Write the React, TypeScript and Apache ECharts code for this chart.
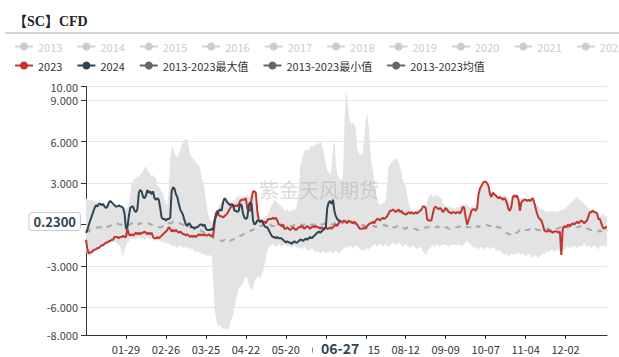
import React, { useEffect, useRef } from "react";
import * as echarts from "echarts";

const FONT = "'Noto Sans CJK SC', 'Noto Sans', sans-serif";

const MONTH_DAYS = [31, 29, 31, 30, 31, 30, 31, 31, 30, 31, 30, 31];
const categories: string[] = [];
MONTH_DAYS.forEach((n, m) => {
  for (let d = 1; d <= n; d++) {
    categories.push(String(m + 1).padStart(2, "0") + "-" + String(d).padStart(2, "0"));
  }
});

const hiddenYears = ["2013", "2014", "2015", "2016", "2017", "2018", "2019", "2020", "2021", "2022"];
const NAME_2023 = "2023";
const NAME_2024 = "2024";
const NAME_MAX = "2013-2023最大值";
const NAME_MIN = "2013-2023最小值";
const NAME_MEAN = "2013-2023均值";
const yMin = -8;
const yMax = 10;
const ySplitNumber = 6;
const pointerDate = "06-27";
const pointerValue = 0.23;
const watermark = "紫金天风期货";

const maxValues = [
  1.9, 1.8, 1.8, 1.7, 1.8, 1.7, 1.6, 1.7, 1.6, 1.5,
  1.6, 1.5, 1.6, 1.5, 1.4, 1.5, 1.6, 1.5, 1.4, 1.5,
  1.4, 1.3, 1.3, 1.2, 1.3, 1.2, 1.1, 1.2, 1.1, 1.2,
  1.5, 2.2, 3.0, 3.2, 3.4, 3.3, 3.5, 3.4, 3.6, 3.7,
  3.9, 4.1, 4.2, 4.0, 3.8, 3.6, 3.5, 3.6, 3.4, 3.3,
  2.9, 2.7, 2.6, 2.4, 2.2, 1.8, 1.5, 1.4, 2.5, 4.8,
  5.6, 5.5, 5.2, 5.0, 4.9, 5.1, 5.4, 5.8, 6.0, 6.2,
  6.1, 6.2, 5.6, 5.0, 4.9, 4.8, 4.6, 4.5, 4.4, 4.3,
  4.0, 3.4, 3.0, 2.6, 1.8, 1.0, 0.6, 0.3, 0.2, 0.1,
  0.2, 0.9, 1.1, 1.3, 1.5, 1.6, 1.6, 1.7, 1.8, 1.7,
  1.6, 1.7, 1.6, 1.8, 1.7, 1.9, 2.0, 2.1, 1.9, 2.0,
  2.0, 2.1, 2.0, 2.2, 2.0, 1.9, 2.0, 2.5, 2.5, 2.4,
  1.2, 0.6, 0.5, 0.5, 0.4, 0.5, 0.6, 0.7, 0.9, 1.2,
  1.4, 1.6, 1.8, 1.7, 1.6, 1.5, 1.4, 1.3, 1.2, 1.0,
  1.0, 1.1, 1.0, 0.9, 1.0, 1.1, 1.0, 1.2, 1.5, 2.5,
  4.2, 4.6, 5.0, 5.3, 5.4, 5.5, 5.3, 5.6, 5.7, 5.6,
  5.8, 5.7, 5.9, 5.8, 6.0, 5.9, 5.5, 5.0, 4.3, 3.9,
  3.8, 3.6, 4.0, 5.5, 6.1, 4.5, 3.6, 3.4, 3.3, 3.2,
  3.5, 7.0, 9.7, 9.2, 8.0, 7.4, 7.3, 7.4, 7.2, 7.0,
  5.5, 5.2, 5.0, 5.1, 5.3, 6.5, 7.6, 8.0, 7.2, 5.6,
  4.5, 3.9, 3.2, 2.4, 1.8, 1.5, 1.4, 1.5, 1.6, 1.5,
  1.8, 3.0, 4.2, 4.3, 4.5, 4.6, 4.7, 4.8, 4.7, 4.5,
  4.2, 3.8, 3.2, 3.0, 2.8, 2.2, 1.6, 1.2, 1.0, 1.0,
  0.9, 1.0, 1.1, 1.0, 1.1, 1.2, 1.4, 1.4, 1.3, 1.6,
  2.0, 2.1, 2.2, 2.0, 2.1, 2.2, 2.0, 2.1, 2.0, 1.9,
  1.5, 1.4, 1.3, 1.2, 1.3, 1.2, 1.3, 1.2, 1.1, 1.2,
  1.3, 1.2, 1.4, 1.3, 1.4, 1.4, 1.5, 1.4, 1.3, 1.2,
  1.3, 1.4, 1.3, 1.4, 1.6, 2.3, 2.7, 2.9, 3.0, 3.1,
  3.2, 3.0, 2.8, 2.5, 2.3, 2.4, 2.3, 2.2, 2.1, 2.0,
  2.1, 2.0, 2.0, 2.1, 2.1, 2.0, 1.9, 1.5, 1.4, 2.1,
  2.2, 2.1, 2.2, 1.9, 1.8, 1.9, 1.9, 1.9, 1.9, 1.8,
  1.9, 1.9, 1.9, 2.0, 1.7, 1.5, 1.4, 1.3, 1.2, 1.1,
  1.1, 1.0, 1.0, 0.9, 1.0, 0.9, 1.0, 1.0, 0.9, 1.0,
  0.9, 1.0, 1.0, 1.1, 1.0, 1.1, 1.2, 1.3, 1.4, 1.5,
  1.6, 1.7, 1.8, 1.9, 2.0, 1.9, 1.8, 1.7, 1.6, 1.5,
  1.4, 1.3, 1.2, 1.1, 1.1, 1.1, 1.0, 1.0, 0.9, 0.8,
  0.7, 0.6, 0.8, 0.7, 0.6, 0.7,
];

const minValues = [
  -1.9, -2.2, -2.3, -2.2, -2.1, -2.0, -1.9, -1.9, -1.8, -1.8,
  -1.7, -1.6, -1.6, -1.5, -1.4, -1.4, -1.3, -1.3, -1.2, -1.3,
  -1.2, -1.3, -1.4, -1.5, -1.6, -2.0, -2.3, -1.8, -1.5, -1.3,
  -1.2, -1.1, -1.0, -1.1, -1.0, -1.1, -1.0, -0.9, -1.0, -1.1,
  -1.0, -1.1, -1.0, -0.9, -1.0, -1.1, -1.0, -1.1, -1.2, -1.1,
  -1.2, -1.1, -1.2, -1.3, -1.2, -1.3, -1.4, -1.3, -1.4, -1.5,
  -1.5, -1.6, -1.5, -1.6, -1.7, -1.6, -1.5, -1.6, -1.7, -1.6,
  -1.7, -1.6, -1.7, -1.8, -1.7, -1.8, -1.9, -2.0, -1.9, -2.0,
  -2.1, -2.0, -2.2, -2.1, -2.2, -2.3, -2.2, -2.3, -2.2, -3.8,
  -6.0, -6.8, -7.2, -7.4, -7.3, -7.5, -7.6, -7.4, -7.7, -7.5,
  -7.6, -7.2, -6.8, -6.6, -6.0, -5.5, -5.0, -4.6, -4.5, -4.4,
  -4.2, -4.0, -3.8, -3.9, -4.3, -4.6, -4.8, -4.5, -4.2, -3.9,
  -3.8, -3.7, -3.9, -3.6, -3.4, -3.0, -2.4, -1.9, -1.7, -1.6,
  -1.5, -1.4, -1.5, -1.6, -1.5, -1.4, -1.5, -1.6, -1.5, -1.4,
  -1.5, -1.6, -1.5, -1.6, -1.7, -1.6, -1.5, -1.6, -1.7, -1.6,
  -1.7, -1.8, -1.7, -1.6, -1.7, -1.8, -1.9, -1.8, -1.7, -1.8,
  -1.9, -2.0, -1.9, -2.0, -2.1, -2.0, -1.9, -2.0, -2.1, -2.0,
  -2.0, -1.9, -2.0, -2.1, -2.0, -1.9, -2.0, -2.1, -2.0, -1.9,
  -1.8, -1.7, -1.6, -1.7, -1.6, -1.5, -1.6, -1.7, -1.6, -1.5,
  -1.6, -1.7, -1.8, -1.9, -1.8, -1.9, -1.8, -1.7, -1.8, -1.7,
  -1.6, -1.5, -1.4, -1.5, -1.6, -1.5, -1.4, -1.5, -1.6, -1.5,
  -1.4, -1.5, -1.6, -1.5, -1.4, -1.3, -1.4, -1.5, -1.4, -1.3,
  -1.4, -1.5, -1.6, -1.5, -1.4, -1.5, -1.6, -1.7, -1.6, -1.5,
  -1.6, -1.7, -1.8, -1.7, -1.6, -1.7, -1.9, -2.1, -2.2, -2.0,
  -1.8, -1.7, -1.6, -1.5, -1.6, -1.5, -1.4, -1.5, -1.6, -1.5,
  -1.4, -1.5, -1.4, -1.5, -1.6, -1.5, -1.4, -1.5, -1.4, -1.5,
  -1.5, -1.4, -1.5, -1.6, -1.5, -1.4, -1.3, -1.2, -1.3, -1.4,
  -1.5, -1.6, -1.7, -1.6, -1.7, -1.8, -1.7, -1.6, -1.7, -1.8,
  -1.7, -1.6, -1.7, -1.8, -1.7, -1.6, -1.7, -1.8, -1.9, -1.8,
  -1.9, -2.0, -2.1, -2.2, -2.1, -2.2, -2.3, -2.2, -2.1, -2.2,
  -2.1, -2.2, -2.1, -2.0, -2.1, -2.2, -2.1, -2.2, -2.3, -2.2,
  -2.1, -2.2, -2.3, -2.4, -2.3, -2.2, -2.3, -2.4, -2.3, -2.2,
  -2.1, -2.2, -2.0, -1.9, -2.0, -1.9, -1.8, -1.9, -2.0, -1.9,
  -1.8, -1.9, -2.0, -2.3, -1.9, -1.8, -1.7, -1.6, -1.7, -1.6,
  -1.7, -1.6, -1.5, -1.6, -1.7, -1.6, -1.5, -1.6, -1.5, -1.4,
  -1.5, -1.6, -1.5, -1.6, -1.7, -1.6, -1.5, -1.6, -1.7, -1.8,
  -1.6, -1.5, -1.6, -1.5, -1.6, -1.5,
];

const meanValues = [
  -0.4, -0.5, -0.5, -0.4, -0.4, -0.3, -0.3, -0.3, -0.2, -0.2,
  -0.2, -0.2, -0.1, -0.1, -0.1, -0.2, -0.1, -0.1, 0.0, 0.0,
  0.0, 0.0, 0.1, 0.0, 0.0, 0.0, 0.0, 0.0, 0.1, 0.0,
  0.0, 0.0, 0.1, 0.1, 0.0, 0.1, 0.1, 0.0, 0.1, 0.1,
  0.1, 0.1, 0.0, 0.0, 0.1, 0.0, 0.0, -0.1, -0.1, -0.1,
  -0.1, -0.2, -0.2, -0.2, -0.1, -0.1, 0.0, 0.0, 0.1, 0.1,
  0.1, 0.2, 0.2, 0.1, 0.1, 0.1, 0.1, 0.0, 0.0, -0.1,
  -0.1, -0.2, -0.2, -0.2, -0.2, -0.2, -0.3, -0.3, -0.3, -0.4,
  -0.4, -0.5, -0.5, -0.6, -0.6, -0.7, -0.8, -0.8, -0.9, -0.9,
  -1.0, -1.0, -1.1, -1.1, -1.1, -1.2, -1.2, -1.1, -1.2, -1.1,
  -1.1, -1.2, -1.1, -1.1, -1.0, -1.0, -0.9, -0.9, -0.8, -0.8,
  -0.7, -0.7, -0.6, -0.6, -0.5, -0.5, -0.4, -0.4, -0.3, -0.3,
  -0.2, -0.2, -0.1, -0.1, 0.0, 0.0, 0.1, 0.1, 0.0, 0.0,
  -0.1, -0.1, -0.1, -0.2, -0.1, -0.1, -0.1, -0.1, -0.2, -0.1,
  -0.1, -0.1, -0.2, -0.1, -0.1, -0.1, 0.0, -0.1, -0.1, 0.0,
  0.0, 0.0, -0.1, 0.0, 0.0, 0.0, 0.1, 0.0, 0.0, 0.0,
  0.0, 0.0, 0.0, 0.1, 0.0, 0.0, 0.0, 0.1, 0.0, 0.0,
  0.0, 0.1, 0.0, 0.0, 0.1, 0.1, 0.1, 0.1, 0.2, 0.1,
  0.1, 0.2, 0.2, 0.1, 0.1, 0.2, 0.1, 0.1, 0.1, 0.0,
  0.0, 0.0, -0.1, -0.1, 0.0, -0.1, -0.1, -0.1, -0.1, -0.1,
  -0.1, -0.1, -0.1, -0.2, -0.1, -0.1, -0.1, -0.1, -0.1, 0.0,
  -0.1, -0.1, 0.0, -0.1, -0.1, -0.2, -0.2, -0.2, -0.1, -0.2,
  -0.2, -0.2, -0.2, -0.3, -0.3, -0.2, -0.2, -0.3, -0.3, -0.3,
  -0.3, -0.3, -0.4, -0.4, -0.3, -0.3, -0.3, -0.3, -0.2, -0.2,
  -0.2, -0.2, -0.2, -0.3, -0.2, -0.2, -0.1, -0.2, -0.2, -0.3,
  -0.3, -0.3, -0.2, -0.2, -0.3, -0.3, -0.2, -0.2, -0.2, -0.2,
  -0.2, -0.2, -0.1, -0.2, -0.2, -0.2, -0.1, -0.2, -0.2, -0.2,
  -0.2, -0.3, -0.2, -0.2, -0.1, -0.2, -0.1, -0.1, -0.1, -0.1,
  -0.1, 0.0, -0.1, -0.1, -0.1, -0.2, -0.1, -0.1, -0.2, -0.2,
  -0.2, -0.3, -0.4, -0.5, -0.6, -0.6, -0.7, -0.7, -0.6, -0.5,
  -0.5, -0.6, -0.6, -0.5, -0.4, -0.4, -0.4, -0.3, -0.4, -0.4,
  -0.4, -0.3, -0.4, -0.4, -0.4, -0.3, -0.4, -0.4, -0.4, -0.4,
  -0.4, -0.3, -0.3, -0.3, -0.3, -0.4, -0.4, -0.3, -0.3, -0.2,
  -0.3, -0.3, -0.2, -0.2, -0.2, -0.2, -0.3, -0.2, -0.2, -0.1,
  -0.1, -0.2, -0.1, -0.1, -0.2, -0.2, -0.1, -0.2, -0.2, -0.3,
  -0.3, -0.3, -0.3, -0.4, -0.4, -0.4, -0.5, -0.5, -0.5, -0.5,
  -0.4, -0.5, -0.6, -0.5, -0.5, -0.4,
];

const values2023 = [
  -1.1, -1.8, -2.1, -2.0, -2.0, -1.9, -1.8, -1.8, -1.7, -1.7,
  -1.6, -1.5, -1.5, -1.4, -1.3, -1.3, -1.2, -1.2, -1.1, -1.1,
  -0.9, -0.9, -0.9, -1.0, -0.9, -0.9, -0.8, -0.9, -0.9, -0.3,
  -0.7, -0.8, -0.7, -0.8, -0.7, -0.6, -0.7, -0.6, -0.7, -0.6,
  -0.6, -0.5, -0.6, -0.7, -0.6, -0.7, -0.6, -0.9, -1.0, -1.0,
  -0.9, -1.0, -0.9, -0.8, -0.7, -0.6, -0.5, -0.4, -0.2, -0.3,
  -0.5, -0.4, -0.5, -0.4, -0.5, -0.6, -0.5, -0.6, -0.7, -0.7,
  -0.8, -0.7, -0.8, -0.9, -0.8, -0.9, -0.8, -0.9, -0.8, -0.7,
  -0.8, -0.7, -0.8, -0.7, -0.8, -0.8, -0.7, -0.8, -0.8, -0.9,
  0.0, 0.8, 1.0, 0.7, 0.6, 0.6, 0.5, 0.6, 0.7, 0.8,
  1.0, 1.2, 1.3, 1.4, 1.3, 1.4, 1.3, 1.5, 1.7, 1.8,
  1.8, 1.8, 1.9, 1.2, 1.0, 1.0, 1.9, 2.4, 2.4, 2.3,
  1.0, 0.3, 0.2, 0.3, 0.2, 0.2, 0.1, 0.3, 0.4, 0.4,
  0.4, 0.5, 0.4, 0.5, 0.3, 0.0, 0.0, -0.1, 0.0, -0.3,
  -0.3, -0.2, -0.3, -0.4, -0.3, -0.2, -0.3, -0.4, -0.3, -0.2,
  -0.2, -0.1, -0.2, -0.3, -0.2, -0.1, -0.2, -0.3, -0.2, -0.1,
  -0.2, -0.1, -0.2, -0.2, -0.3, -0.2, -0.3, -0.3, -0.2, -0.3,
  -0.3, -0.2, -0.3, -0.2, -0.1, 0.0, -0.1, 0.1, 0.3, 0.2,
  0.2, 0.3, 0.2, 0.1, 0.3, 0.2, 0.2, 0.1, 0.2, 0.1,
  0.0, -0.2, -0.3, -0.3, -0.3, -0.2, -0.3, -0.1, 0.0, 0.1,
  0.1, 0.2, 0.1, 0.3, 0.4, 0.4, 0.3, 0.4, 0.5, 0.4,
  0.5, 0.6, 0.8, 1.0, 1.0, 1.1, 1.0, 0.9, 1.0, 1.1,
  0.9, 1.0, 0.8, 0.8, 0.7, 0.8, 0.9, 0.8, 0.9, 0.8,
  0.8, 0.9, 0.8, 0.9, 1.0, 1.1, 1.3, 1.3, 1.2, 0.4,
  0.3, 0.3, 0.3, 0.8, 1.2, 1.3, 1.2, 1.1, 1.2, 1.1,
  0.9, 1.0, 1.2, 1.1, 0.9, 0.9, 0.8, 0.9, 0.9, 0.8,
  0.9, 0.9, 0.8, 1.0, 1.3, 1.2, 0.5, 0.0, 0.3, 0.6,
  1.0, 1.1, 1.1, 1.0, 1.2, 2.2, 2.6, 2.8, 3.0, 3.1,
  3.1, 3.0, 2.8, 2.2, 2.0, 2.3, 2.2, 2.1, 2.0, 1.9,
  2.0, 1.9, 1.8, 1.9, 1.8, 1.5, 1.1, 1.0, 1.3, 2.0,
  2.1, 2.0, 2.1, 1.8, 1.0, 1.6, 1.7, 1.8, 1.8, 1.7,
  1.8, 1.7, 1.8, 1.9, 1.6, 1.2, 0.8, 0.5, 0.4, 0.3,
  0.0, -0.4, -0.5, -0.5, -0.4, -0.5, -0.5, -0.6, -0.5, -0.5,
  -0.5, -0.6, -0.5, -2.2, -0.3, -0.1, -0.2, -0.1, 0.0, -0.1,
  0.0, 0.1, 0.0, 0.1, 0.2, 0.1, 0.2, 0.3, 0.2, 0.1,
  0.2, 0.3, 0.6, 0.9, 0.9, 1.0, 0.9, 0.9, 0.8, 0.4,
  0.4, 0.1, -0.2, -0.3, -0.2, -0.2,
];

const values2024 = [
  -0.6, -0.4, 0.0, 0.3, 0.6, 0.9, 1.2, 1.4, 1.3, 1.5,
  1.5, 1.4, 1.5, 1.3, 1.2, 1.3, 1.6, 1.7, 1.6, 1.5,
  1.4, 1.3, 1.3, 1.4, 1.3, 1.3, 1.2, 0.8, -0.3, -0.2,
  0.6, 1.2, 1.3, 1.3, 1.0, 0.9, 1.1, 2.3, 2.5, 2.4,
  2.0, 1.9, 2.1, 2.5, 2.3, 2.4, 2.2, 2.4, 1.9, 1.8,
  1.9, 1.8, 1.2, 0.5, 0.4, 0.4, 0.3, 0.4, 0.4, 0.5,
  2.4, 2.7, 2.6, 2.2, 2.0, 1.5, 1.1, 0.9, 0.7, 0.3,
  0.0, -0.1, 0.1, 0.0, -0.2, -0.2, -0.3, -0.2, -0.2, -0.1,
  0.0, 0.0, -0.1, 0.0, -0.3, -0.4, -0.4, -0.4, -0.3, -0.4,
  0.3, 0.6, 0.8, 1.0, 1.1, 1.0, 1.6, 1.9, 1.8, 1.6,
  1.5, 1.4, 1.5, 1.4, 1.0, 1.0, 0.9, 1.0, 1.5, 1.4,
  0.8, 0.5, 0.4, 0.5, 1.4, 1.6, 1.5, 0.3, 0.0, 0.1,
  0.3, 0.3, 0.2, 0.3, 0.1, -0.1, -0.2, -0.2, -0.4, -0.6,
  -0.8, -0.9, -0.9, -1.0, -0.9, -1.0, -1.0, -1.0, -1.1, -1.2,
  -1.3, -1.2, -1.3, -1.3, -1.4, -1.3, -1.2, -1.3, -1.3, -1.2,
  -1.1, -1.1, -1.2, -1.1, -1.0, -1.1, -1.0, -0.9, -1.0, -0.9,
  -0.8, -0.7, -0.6, -0.5, -0.6, -0.5, -0.4, -0.3, -0.2, 1.2,
  1.6, 1.7, 1.5, 1.8, 1.0, 0.6, 0.4, 0.3, 0.23,
];

const labelInterval = (index: number) => index > 0 && index < 360 && index % 28 === 0;

function buildOption() {
  const hiddenSeries = hiddenYears.map((name) => ({
    name,
    type: "line",
    data: [] as number[],
    symbol: "circle",
    showSymbol: false,
    color: "#ccc",
  }));
  const selected: Record<string, boolean> = {};
  hiddenYears.forEach((y) => (selected[y] = false));

  const legendCommon = {
    left: 9,
    width: 900,
    itemWidth: 18,
    itemHeight: 10,
    itemGap: 14,
    inactiveColor: "#ccc",
    textStyle: { fontSize: 11, color: "#333", fontFamily: FONT },
  };

  return {
    animation: false,
    textStyle: { fontFamily: FONT },
    title: {
      text: "【SC】CFD",
      left: 8,
      top: 9,
      textStyle: {
        fontSize: 14,
        fontWeight: "bold",
        color: "#222",
        fontFamily: "'Liberation Serif', 'Noto Sans CJK SC', serif",
      },
    },
    graphic: [
      {
        type: "line",
        shape: { x1: 5, y1: 33, x2: 619, y2: 33 },
        style: { stroke: "#a6a6a6", lineWidth: 1 },
        silent: true,
      },
      {
        type: "text",
        left: 259,
        top: 179,
        z: 100,
        silent: true,
        style: {
          text: watermark,
          fontSize: 20,
          fill: "rgba(160,160,160,0.4)",
          fontFamily: FONT,
        },
      },
    ],
    legend: [
      { ...legendCommon, top: 36, data: hiddenYears, selected },
      {
        ...legendCommon,
        top: 55,
        data: [
          NAME_2023,
          NAME_2024,
          { name: NAME_MAX, lineStyle: { width: 2, opacity: 1, color: "#666", type: "solid" } },
          { name: NAME_MIN, lineStyle: { width: 2, opacity: 1, color: "#666", type: "solid" } },
          { name: NAME_MEAN, lineStyle: { width: 2, opacity: 1, color: "#666", type: "solid" }, itemStyle: { color: "#666" } },
        ],
      },
    ],
    grid: { left: 86, right: 12, top: 86.5, bottom: 22 },
    xAxis: [
      {
        type: "category",
        data: categories,
        boundaryGap: false,
        axisLine: { show: false },
        axisTick: { show: false },
        splitLine: { show: false },
        axisLabel: { interval: labelInterval, color: "#333", fontSize: 11, margin: 8, fontFamily: FONT },
        axisPointer: {
          show: true,
          type: "line",
          value: categories.indexOf(pointerDate),
          status: "show",
          snap: true,
          triggerTooltip: false,
          lineStyle: { opacity: 0, width: 0 },
          label: {
            show: true,
            fontWeight: "bold",
            fontSize: 14,
            color: "#2f4554",
            backgroundColor: "#fff",
            padding: [2, 8],
            margin: 6,
            fontFamily: FONT,
          },
          handle: { show: false },
        },
      },
      {
        type: "category",
        data: categories,
        boundaryGap: false,
        position: "bottom",
        axisLine: { show: true, onZero: true, lineStyle: { color: "#333", width: 1 } },
        axisTick: { show: true, interval: labelInterval, length: 4, lineStyle: { color: "#333" } },
        axisLabel: { show: false },
        splitLine: { show: false },
      },
    ],
    yAxis: {
      type: "value",
      min: yMin,
      max: yMax,
      splitNumber: ySplitNumber,
      axisLine: { show: true, lineStyle: { color: "#333" } },
      axisTick: { show: true, length: 5, lineStyle: { color: "#333" } },
      splitLine: { show: true, lineStyle: { color: "#e6e6e6" } },
      axisLabel: {
        color: "#444",
        fontSize: 11,
        margin: 8,
        fontFamily: FONT,
        formatter: (v: number) => Number(v).toPrecision(4),
      },
      axisPointer: {
        show: true,
        value: pointerValue,
        status: "show",
        triggerTooltip: false,
        lineStyle: { opacity: 0, width: 0 },
        label: {
          show: true,
          formatter: (p: any) => Number(p.value).toFixed(4),
          fontWeight: "bold",
          fontSize: 13,
          color: "#2f4554",
          backgroundColor: "#fff",
          borderColor: "#ccc",
          borderWidth: 1,
          padding: [2, 4],
          margin: 6,
          fontFamily: FONT,
        },
      },
    },
    series: [
      ...hiddenSeries,
      {
        name: NAME_MAX,
        type: "line",
        data: maxValues,
        symbol: "circle",
        showSymbol: false,
        color: "#666",
        lineStyle: { width: 0, opacity: 0 },
        areaStyle: { color: "#e3e3e3", opacity: 1 },
        z: 1,
      },
      {
        name: NAME_MIN,
        type: "line",
        data: minValues,
        symbol: "circle",
        showSymbol: false,
        color: "#666",
        lineStyle: { width: 0, opacity: 0 },
        areaStyle: { color: "#e3e3e3", opacity: 1 },
        z: 1,
      },
      {
        name: NAME_MEAN,
        type: "line",
        data: meanValues,
        symbol: "circle",
        showSymbol: false,
        color: "#666",
        lineStyle: { width: 2, color: "#aaa", type: [6, 6] },
        z: 2,
      },
      {
        name: NAME_2023,
        type: "line",
        data: values2023,
        symbol: "circle",
        showSymbol: false,
        color: "#c23531",
        lineStyle: { width: 2 },
        z: 3,
      },
      {
        name: NAME_2024,
        type: "line",
        data: values2024,
        symbol: "circle",
        showSymbol: false,
        color: "#2f4554",
        lineStyle: { width: 2 },
        z: 4,
      },
    ],
  };
}

export default function App() {
  const ref = useRef<HTMLDivElement>(null);
  useEffect(() => {
    if (!ref.current) return;
    const chart = echarts.init(ref.current, undefined, { renderer: "svg" });
    chart.setOption(buildOption() as any);
    return () => chart.dispose();
  }, []);
  return (
    <div
      ref={ref}
      style={{ position: "fixed", left: 0, top: 0, width: 619, height: 357, background: "#fff" }}
    />
  );
}
